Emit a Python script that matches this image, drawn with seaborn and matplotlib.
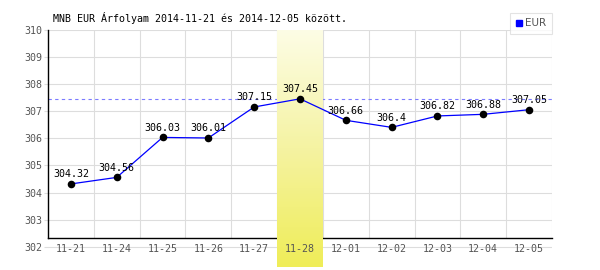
import numpy as np
import pandas as pd
import matplotlib
matplotlib.use("Agg")
import matplotlib.pyplot as plt
from matplotlib.lines import Line2D
import seaborn as sns

dates = ["11-21", "11-24", "11-25", "11-26", "11-27", "11-28",
         "12-01", "12-02", "12-03", "12-04", "12-05"]
eur = [304.32, 304.56, 306.03, 306.01, 307.15, 307.45,
       306.66, 306.4, 306.82, 306.88, 307.05]
value_labels = ["304.32", "304.56", "306.03", "306.01", "307.15", "307.45",
                "306.66", "306.4", "306.82", "306.88", "307.05"]
highlight = "11-28"
title = "MNB EUR Árfolyam 2014-11-21 és 2014-12-05 között."
series_name = "EUR"
y_ticks = [302, 303, 304, 305, 306, 307, 308, 309, 310]

df = pd.DataFrame({"date": dates, "eur": eur})

sns.set_theme(style="white")
plt.rcParams["font.family"] = ["DejaVu Sans Mono", "DejaVu Sans"]

fig = plt.figure(figsize=(6, 2.7), dpi=100)
ax = fig.add_axes([48 / 600, 0.0, (552 - 48) / 600, 1 - 29.5 / 270])

ymin, ymax = 301.154, 310
axis_y = 302.33
ax.set_ylim(ymin, ymax)

sns.lineplot(data=df, x="date", y="eur", ax=ax, color="#0000ff",
             linewidth=0.9, zorder=5, legend=False)
sns.scatterplot(data=df, x="date", y="eur", ax=ax, color="black",
                s=30, edgecolor="black", linewidth=0, zorder=6, legend=False)
ax.set_xlim(-0.5, len(dates) - 0.5)

# highlight band with vertical gradient
hi = dates.index(highlight)
grad = np.linspace(0, 1, 256).reshape(-1, 1)
cmap = matplotlib.colors.LinearSegmentedColormap.from_list(
    "yel", ["#fdfde6", "#f5f3a2", "#efed58"])
ax.imshow(grad, extent=(hi - 0.5, hi + 0.5, 301.26, ymax), aspect="auto",
          cmap=cmap, origin="upper", zorder=3, interpolation="bilinear")
ax.set_xlim(-0.5, len(dates) - 0.5)
ax.set_ylim(ymin, ymax)

# grid
ax.set_yticks(y_ticks)
ax.grid(axis="y", color="#dddddd", linewidth=0.8, zorder=1)
ax.grid(axis="x", visible=False)
ax.vlines(np.arange(len(dates)) + 0.5, axis_y, ymax, color="#dddddd",
          linewidth=0.8, zorder=1)

# max dashed line
ax.axhline(max(eur), color="#7b7bff", linewidth=0.8, linestyle=(0, (3, 3)), zorder=2)

# value labels
for i, (v, lab) in enumerate(zip(eur, value_labels)):
    ax.annotate(lab, (i, v), xytext=(0, 3.4), textcoords="offset points",
                ha="center", va="bottom", fontsize=7.2, color="black", zorder=7)

# spines
for s in ["top", "right"]:
    ax.spines[s].set_visible(False)
ax.spines["bottom"].set_position(("data", axis_y))
ax.spines["bottom"].set_color("black")
ax.spines["bottom"].set_linewidth(1.0)
ax.spines["bottom"].set_zorder(2)
ax.spines["left"].set_bounds(axis_y, ymax)
ax.spines["left"].set_color("black")
ax.spines["left"].set_linewidth(1.0)

ax.tick_params(axis="y", length=3, width=0.8, color="#dddddd", pad=1,
               labelsize=7.2, labelcolor="#555555", left=True)
ax.tick_params(axis="x", length=0, pad=4, labelsize=7.2, labelcolor="#555555")
ax.xaxis.set_zorder(8)
ax.set_xlabel("")
ax.set_ylabel("")
ax.set_facecolor("white")

# legend
handle = Line2D([], [], marker="s", color="#0000ff", linestyle="none",
                markersize=4.5, label=series_name)
leg = ax.legend(handles=[handle], loc="lower right", bbox_to_anchor=(1.0, 0.981),
                borderaxespad=0, frameon=True, fancybox=False,
                prop={"family": "DejaVu Sans", "size": 7.5},
                handlelength=0.6, handletextpad=0.3, borderpad=0.55,
                labelcolor="#555555")
leg.get_frame().set_edgecolor("#dddddd")
leg.get_frame().set_linewidth(0.8)
leg.set_zorder(10)

fig.text(53 / 600, 1 - 18 / 270, title, ha="left", va="center", fontsize=7.2,
         color="black")

fig.savefig("out.png", dpi=100, facecolor="white")
